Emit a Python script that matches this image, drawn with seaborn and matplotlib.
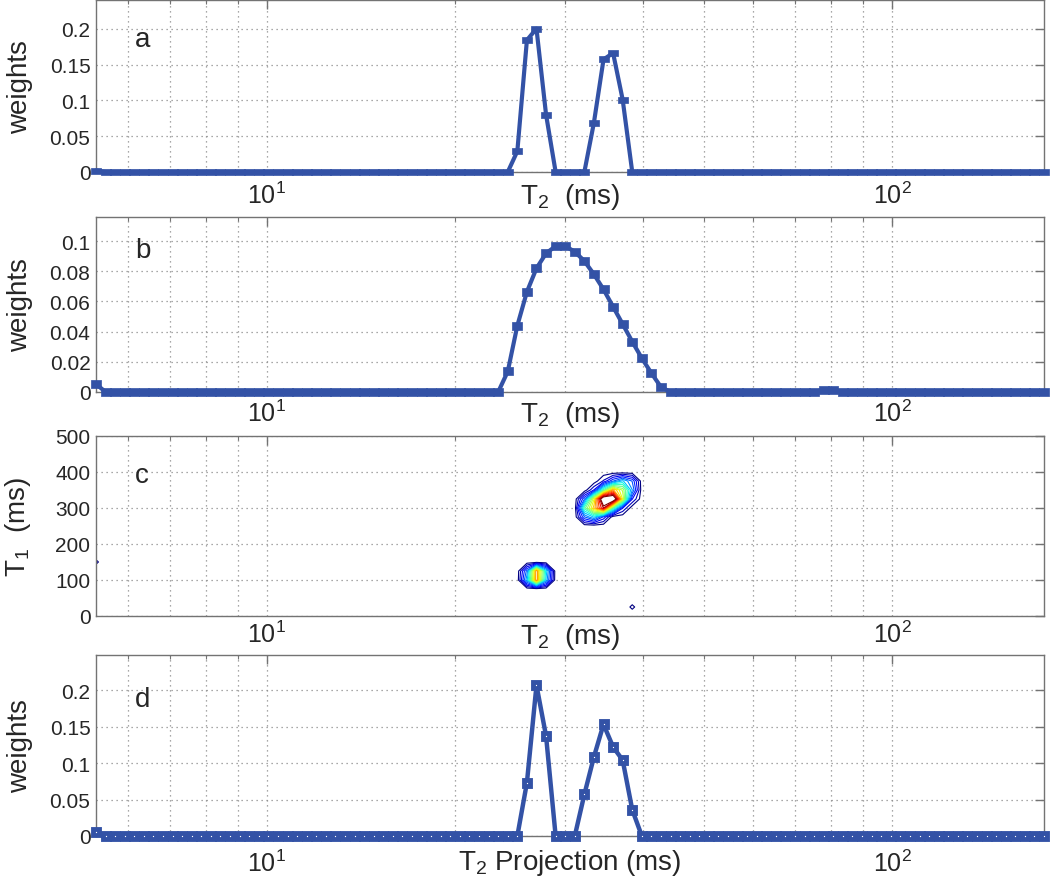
import numpy as np
import matplotlib.pyplot as plt
import seaborn as sns
from matplotlib.ticker import FuncFormatter, LogLocator, NullFormatter

# %% - stil i fontovi
sns.set_style("white")
plt.rcParams["font.family"] = ["Liberation Sans", "DejaVu Sans"]
plt.rcParams["mathtext.fontset"] = "custom"
plt.rcParams["mathtext.rm"] = "Liberation Sans"
plt.rcParams["mathtext.it"] = "Liberation Sans:italic"

BLUE = "#3352a6"
FRAME = "0.45"

# %% - podaci (ocitano sa slike)
# T2 os: 100 tocaka, logaritamski razmak, od ~5.33 do ~175 ms
T2_MIN, T2_MAX, N_T2 = 5.33, 175.0, 100
t2 = np.geomspace(T2_MIN, T2_MAX, N_T2)

# panel a
weights_a = (
    [0.002] + [0] * 43
    + [0.029, 0.184, 0.200, 0.080, 0, 0, 0, 0, 0.069, 0.157, 0.166, 0.101]
    + [0] * 44
)

# panel b
weights_b = (
    [0.0053] + [0] * 42
    + [0.0136, 0.044, 0.0664, 0.082, 0.0919, 0.0967, 0.0967, 0.093, 0.0868,
       0.078, 0.068, 0.0565, 0.045, 0.0334, 0.0224, 0.0125, 0.0033]
    + [0] * 16 + [0.0015, 0.0015] + [0] * 22
)

# panel d - projekcija
weights_d = (
    [0.006] + [0] * 44
    + [0.073, 0.2065, 0.137, 0, 0, 0, 0.057, 0.1085, 0.153, 0.122, 0.104, 0.036]
    + [0] * 43
)

# panel c - T1/T2 mapa: T1 redovi, (indeks T2 tocke, amplituda)
t1_grid = list(range(0, 501, 25))
map_cells = {
    25: {56: 0.04},
    100: {45: 0.28, 46: 0.68, 47: 0.28},
    125: {45: 0.22, 46: 0.68, 47: 0.32},
    150: {0: 0.04},
    275: {51: 0.20, 52: 0.30, 53: 0.15},
    300: {51: 0.40, 52: 0.62, 53: 0.82, 54: 0.40, 55: 0.12},
    325: {51: 0.20, 52: 0.55, 53: 1.00, 54: 1.00, 55: 0.55, 56: 0.12},
    350: {52: 0.12, 53: 0.40, 54: 0.65, 55: 0.50, 56: 0.25},
    375: {53: 0.08, 54: 0.20, 55: 0.30, 56: 0.20},
}
contour_levels = np.linspace(0.03, 0.86, 20)

z_map = np.zeros((len(t1_grid), N_T2))
for t1_val, cells in map_cells.items():
    for idx, val in cells.items():
        z_map[t1_grid.index(t1_val), idx] = val


# %% - pomocne funkcije
def make_axes(top_px, bottom_px):
    return fig.add_axes(
        [96 / 1050, 1 - bottom_px / 878, 948 / 1050, (bottom_px - top_px) / 878]
    )


def style_axes(ax, ylim, yticks, xpad, xlabel, xlabel_y, ylabel, letter, letter_y):
    ax.set_xscale("log")
    ax.set_xlim(t2[0], t2[-1])
    ax.set_ylim(*ylim)
    ax.set_yticks(yticks)
    ax.yaxis.set_major_formatter(FuncFormatter(lambda v, p: f"{v:g}"))
    ax.xaxis.set_major_locator(LogLocator(base=10))
    ax.xaxis.set_minor_locator(LogLocator(base=10, subs=np.arange(2, 10)))
    ax.xaxis.set_minor_formatter(NullFormatter())

    grid_kw = dict(color="0.55", linestyle=(0, (1, 3)), linewidth=0.9)
    ax.grid(True, which="both", axis="x", **grid_kw)
    ax.grid(True, which="major", axis="y", **grid_kw)

    ax.tick_params(which="both", direction="in", top=True, right=True,
                   color=FRAME, labelsize=15)
    ax.tick_params(which="major", length=6.5, width=1)
    ax.tick_params(which="minor", length=3, width=0.8)
    ax.tick_params(axis="x", which="major", pad=xpad, labelsize=18)
    ax.tick_params(axis="y", pad=4)
    for sp in ax.spines.values():
        sp.set_color(FRAME)
        sp.set_linewidth(1.0)

    ax.set_xlabel(xlabel, fontsize=20, va="top")
    ax.xaxis.set_label_coords(0.5, xlabel_y)
    ax.set_ylabel(ylabel, fontsize=20)
    ax.yaxis.set_label_coords(-0.066, 0.5)
    ax.text(0.041, letter_y, letter, transform=ax.transAxes, fontsize=20,
            va="baseline")


def draw_weights(ax, w, marker, ms, mfc, mew, lw):
    sns.lineplot(x=t2, y=w, ax=ax, color=BLUE, linewidth=lw, marker=marker,
                 markersize=ms, markerfacecolor=mfc, markeredgecolor=BLUE,
                 markeredgewidth=mew, estimator=None, sort=False,
                 clip_on=False, zorder=3)


# %% - crtanje
fig = plt.figure(figsize=(10.5, 8.78), dpi=100)

rect_a = [(-1, -0.5), (1, -0.5), (1, 0.5), (-1, 0.5), (-1, -0.5)]
rect_b = [(-1, -0.85), (1, -0.85), (1, 0.85), (-1, 0.85), (-1, -0.85)]

ax_a = make_axes(1, 173)
draw_weights(ax_a, weights_a, rect_a, 7.5, BLUE, 0.5, 3)
style_axes(ax_a, (0, 0.24), [0, 0.05, 0.1, 0.15, 0.2], 7,
           r"T$_2$  (ms)", -0.052, "weights", "a", 0.733)

ax_b = make_axes(218, 393)
draw_weights(ax_b, weights_b, rect_b, 6.5, BLUE, 0.5, 3)
style_axes(ax_b, (0, 0.116), [0, 0.02, 0.04, 0.06, 0.08, 0.1], 5.5,
           r"T$_2$  (ms)", -0.04, "weights", "b", 0.771)

ax_c = make_axes(437, 617)
ax_c.set_xscale("log")
ax_c.contour(t2, t1_grid, z_map, levels=contour_levels, cmap="jet",
             linewidths=0.8)
style_axes(ax_c, (0, 500), [0, 100, 200, 300, 400, 500], 3.5,
           r"T$_2$  (ms)", -0.028, r"T$_1$  (ms)", "c", 0.744)

ax_d = make_axes(656, 837)
draw_weights(ax_d, weights_d, "s", 5, "white", 3.5, 3.2)
style_axes(ax_d, (0, 0.248), [0, 0.05, 0.1, 0.15, 0.2], 10,
           r"T$_2$ Projection (ms)", -0.061, "weights", "d", 0.718)

fig.savefig("out.png", dpi=100)
